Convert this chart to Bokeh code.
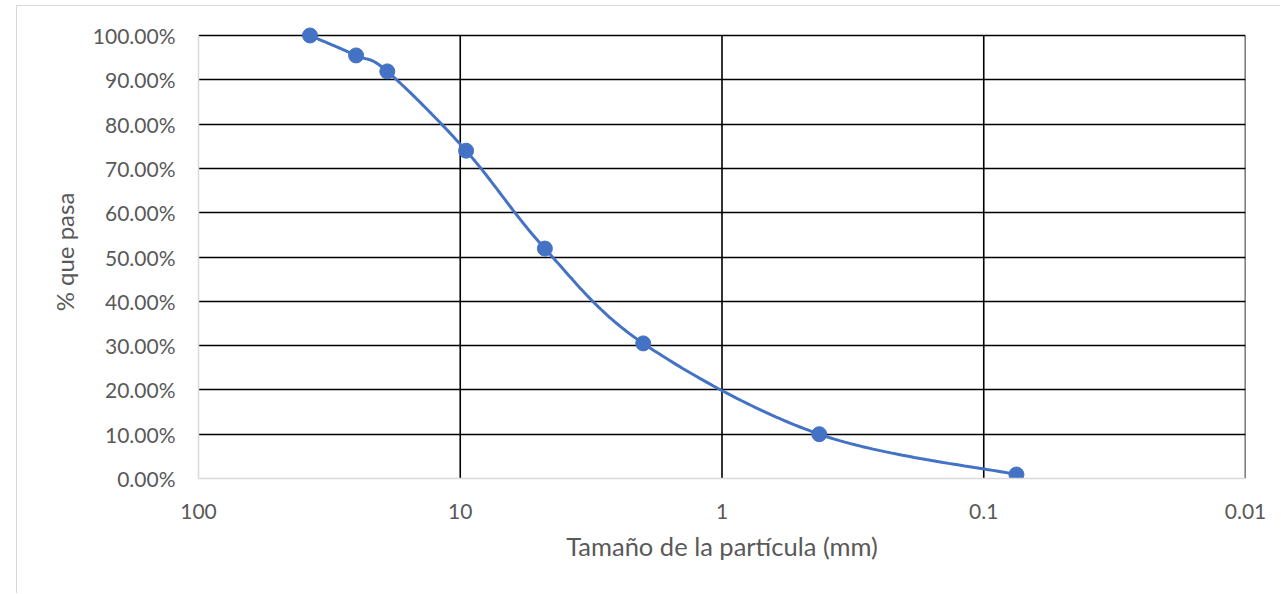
import numpy as np
from bokeh.plotting import figure
from bokeh.models import Range1d, FixedTicker, NumeralTickFormatter, CustomJSTickFormatter, ColumnDataSource
from bokeh.embed import file_html
from bokeh.resources import INLINE

# Data
sizes_mm = [37.5, 25.0, 19.0, 9.5, 4.75, 2.0, 0.425, 0.075]
pct_pass = [1.000, 0.955, 0.919, 0.740, 0.519, 0.305, 0.100, 0.009]
x_ticks = [100, 10, 1, 0.1, 0.01]
y_ticks = [0.0, 0.1, 0.2, 0.3, 0.4, 0.5, 0.6, 0.7, 0.8, 0.9, 1.0]

FONT = "Lato"
TXT = "#595959"
BLUE = "#4472C4"

# Smoothed curve (Catmull-Rom Bezier through the points, like Excel's smoothed line),
# computed in a pixel-proportional space (log x, y)
DEC_PX, Y_PX = 261.75, 443.0
u = -np.log10(np.array(sizes_mm)) * DEC_PX
v = np.array(pct_pass) * Y_PX
P = np.column_stack([u, v])
Pext = np.vstack([P[0], P, P[-1]])
cu, cv = [], []
t = np.linspace(0, 1, 40)
for i in range(len(P) - 1):
    p0, p1, p2, p3 = Pext[i], Pext[i + 1], Pext[i + 2], Pext[i + 3]
    c1 = p1 + (p2 - p0) / 6.0
    c2 = p2 - (p3 - p1) / 6.0
    for tt in t:
        b = ((1 - tt) ** 3) * p1 + 3 * ((1 - tt) ** 2) * tt * c1 + 3 * (1 - tt) * tt ** 2 * c2 + tt ** 3 * p2
        cu.append(b[0]); cv.append(b[1])
curve_x = [10 ** (-a / DEC_PX) for a in cu]
curve_y = [b / Y_PX for b in cv]

PAD = 10.0 / 443.0  # headroom so the top marker is not clipped
p = figure(width=1264, height=588, x_axis_type="log",
           x_range=Range1d(100, 0.01), y_range=Range1d(0, 1 + PAD),
           output_backend="svg", toolbar_location=None,
           min_border_left=181, min_border_right=36, min_border_top=19, min_border_bottom=116)
p.margin = (5, 0, 0, 16)
p.styles = {"border-top": "1px solid #d9d9d9", "border-left": "1px solid #d9d9d9"}
p.outline_line_color = None

# grids (vertical grid lines at each decade except the left axis position)
vgrid = x_ticks[1:]
p.xgrid.grid_line_color = None
p.ygrid.ticker = FixedTicker(ticks=y_ticks)
p.ygrid.grid_line_color = "#000000"
p.ygrid.grid_line_width = 1.6
p.segment(x0=vgrid, y0=[0] * len(vgrid), x1=vgrid, y1=[1] * len(vgrid),
          line_color="#000000", line_width=1.6, level="underlay")

# axes
p.xaxis.ticker = FixedTicker(ticks=x_ticks)
p.xaxis.formatter = CustomJSTickFormatter(code="return tick.toString();")
p.yaxis.ticker = FixedTicker(ticks=y_ticks)
p.yaxis.formatter = NumeralTickFormatter(format="0.00%")
p.yaxis.bounds = (0, 1)
for ax in (p.xaxis[0], p.yaxis[0]):
    ax.axis_line_color = "#d9d9d9"
    ax.axis_line_width = 1.5
    ax.major_tick_line_color = None
    ax.minor_tick_line_color = None
    ax.major_label_text_font = FONT
    ax.major_label_text_font_size = "21px"
    ax.major_label_text_color = TXT
    ax.axis_label_text_font = FONT
    ax.axis_label_text_font_style = "normal"
    ax.axis_label_text_color = TXT
p.xaxis.axis_label_text_font_size = "25.5px"
p.yaxis.axis_label_text_font_size = "24px"
p.xaxis.axis_label = "Tamaño de la partícula (mm)"
p.yaxis.axis_label = "% que pasa"
p.xaxis.major_label_standoff = 19
p.xaxis.axis_label_standoff = 9
p.yaxis.major_label_standoff = 17
p.yaxis.axis_label_standoff = 11

p.line(curve_x, curve_y, line_color=BLUE, line_width=3)
src = ColumnDataSource(dict(x=sizes_mm, y=pct_pass))
p.scatter("x", "y", source=src, size=15, fill_color=BLUE, line_color=BLUE)

open("out.html", "w").write(file_html(p, INLINE))
